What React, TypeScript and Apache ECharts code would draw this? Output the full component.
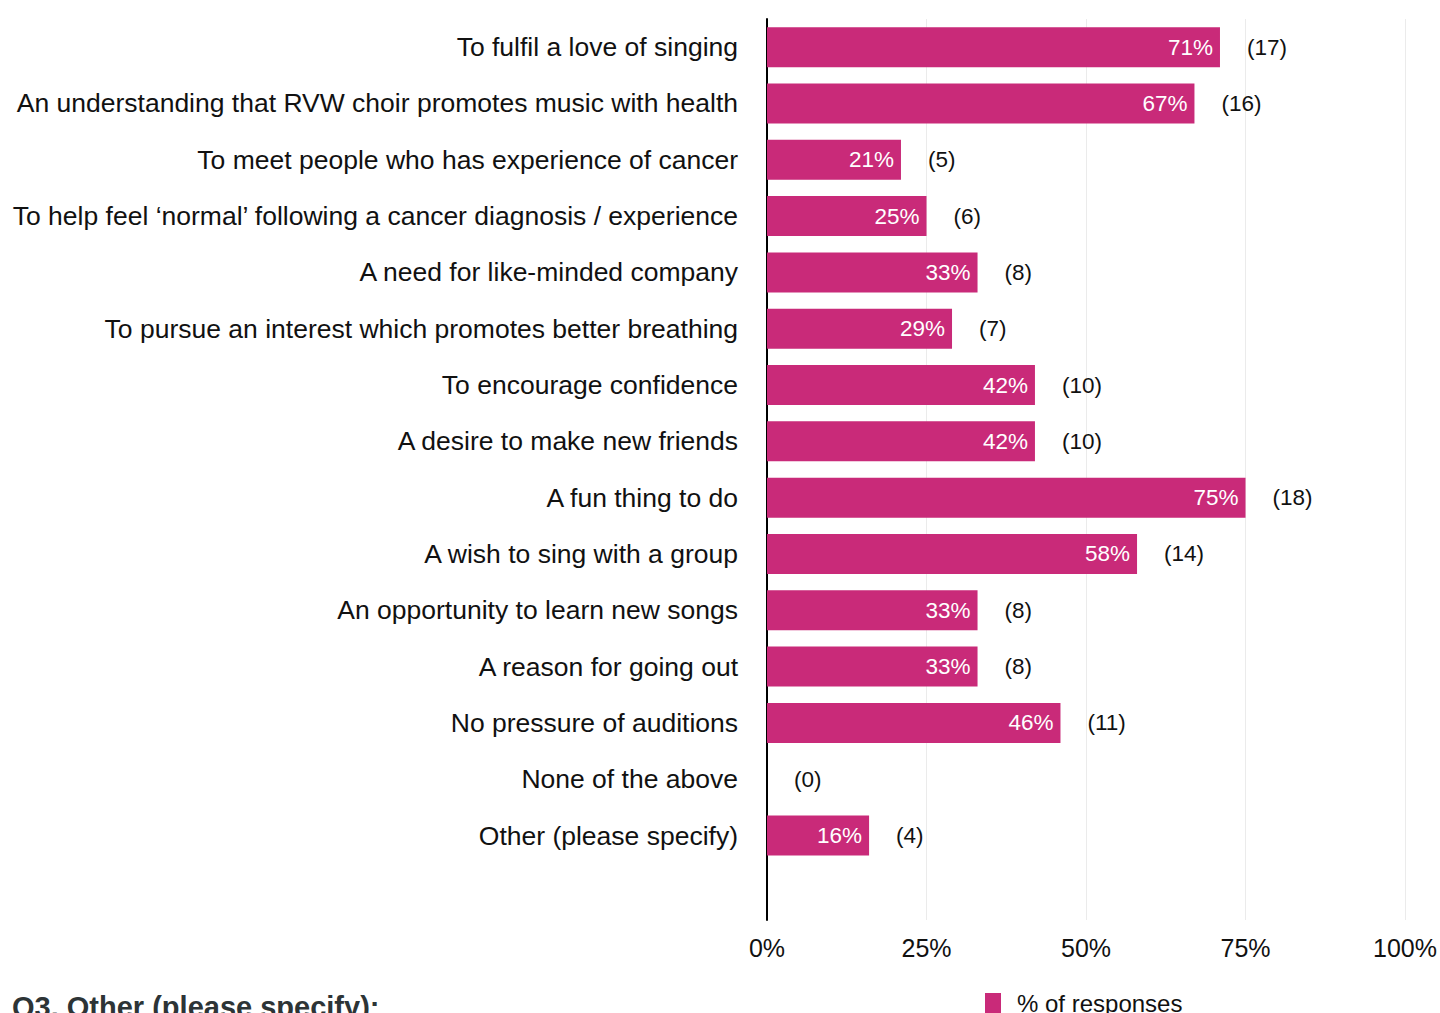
import React, { useEffect, useRef } from "react";
import * as echarts from "echarts";

const categories = [
  "To fulfil a love of singing",
  "An understanding that RVW choir promotes music with health",
  "To meet people who has experience of cancer",
  "To help feel \u2018normal\u2019 following a cancer diagnosis / experience",
  "A need for like-minded company",
  "To pursue an interest which promotes better breathing",
  "To encourage confidence",
  "A desire to make new friends",
  "A fun thing to do",
  "A wish to sing with a group",
  "An opportunity to learn new songs",
  "A reason for going out",
  "No pressure of auditions",
  "None of the above",
  "Other (please specify)",
];
const percents = [71, 67, 21, 25, 33, 29, 42, 42, 75, 58, 33, 33, 46, 0, 16];
const counts = [17, 16, 5, 6, 8, 7, 10, 10, 18, 14, 8, 8, 11, 0, 4];
const xTicks = [0, 25, 50, 75, 100];
const seriesName = "% of responses";
const title = "Q3. Other (please specify):";

const FONT = "'Liberation Sans', Arial, Helvetica, sans-serif";
const COLOR = "#C92A79";

export default function App() {
  const ref = useRef<HTMLDivElement>(null);
  useEffect(() => {
    if (!ref.current) return;
    const chart = echarts.init(ref.current, null, { renderer: "svg" });
    chart.setOption({
      animation: false,
      textStyle: { fontFamily: FONT },
      grid: { left: 767, right: 35, top: 19, bottom: 93, containLabel: false },
      legend: {
        data: [{ name: seriesName, icon: "rect" }],
        left: 980,
        top: 986,
        itemWidth: 16,
        itemHeight: 20,
        itemGap: 8,
        textStyle: { fontSize: 24, color: "#111", fontFamily: FONT, padding: [0, 0, 0, 11] },
      },
      xAxis: {
        type: "value",
        min: 0,
        max: 100,
        interval: 25,
        axisLine: { show: false },
        axisTick: { show: false },
        splitLine: { show: true, lineStyle: { color: "#ebebeb", width: 1 } },
        axisLabel: {
          formatter: (v: number) => (xTicks.includes(v) ? v + "%" : ""),
          fontSize: 25,
          color: "#111",
          margin: 15,
          fontFamily: FONT,
        },
      },
      yAxis: {
        type: "category",
        inverse: true,
        data: [...categories, ""],
        axisLine: { show: true, lineStyle: { color: "#000", width: 2 } },
        axisTick: { show: false },
        splitLine: { show: false },
        axisLabel: { fontSize: 26.5, color: "#111", margin: 29, fontFamily: FONT },
      },
      series: [
        {
          name: seriesName,
          type: "bar",
          data: percents,
          barWidth: 40,
          itemStyle: { color: COLOR },
          label: {
            show: true,
            position: "insideRight",
            distance: 7,
            color: "#fff",
            fontSize: 22.5,
            fontFamily: FONT,
            formatter: (p: any) => (p.value > 0 ? p.value + "%" : ""),
          },
        },
        {
          name: "counts",
          type: "bar",
          data: percents,
          barWidth: 40,
          barGap: "-100%",
          itemStyle: { color: "rgba(0,0,0,0)" },
          silent: true,
          label: {
            show: true,
            position: "right",
            distance: 27,
            color: "#111",
            fontSize: 22.5,
            fontFamily: FONT,
            formatter: (p: any) => "(" + counts[p.dataIndex] + ")",
          },
        },
      ],
      graphic: [
        {
          type: "text",
          left: 12,
          top: 992,
          style: {
            text: title,
            fontSize: 29,
            fontWeight: "bold",
            fill: "#2d3436",
            fontFamily: FONT,
          },
        },
      ],
    });
    return () => chart.dispose();
  }, []);
  return <div ref={ref} style={{ width: 1440, height: 1013, position: "absolute", left: 0, top: 0 }} />;
}
